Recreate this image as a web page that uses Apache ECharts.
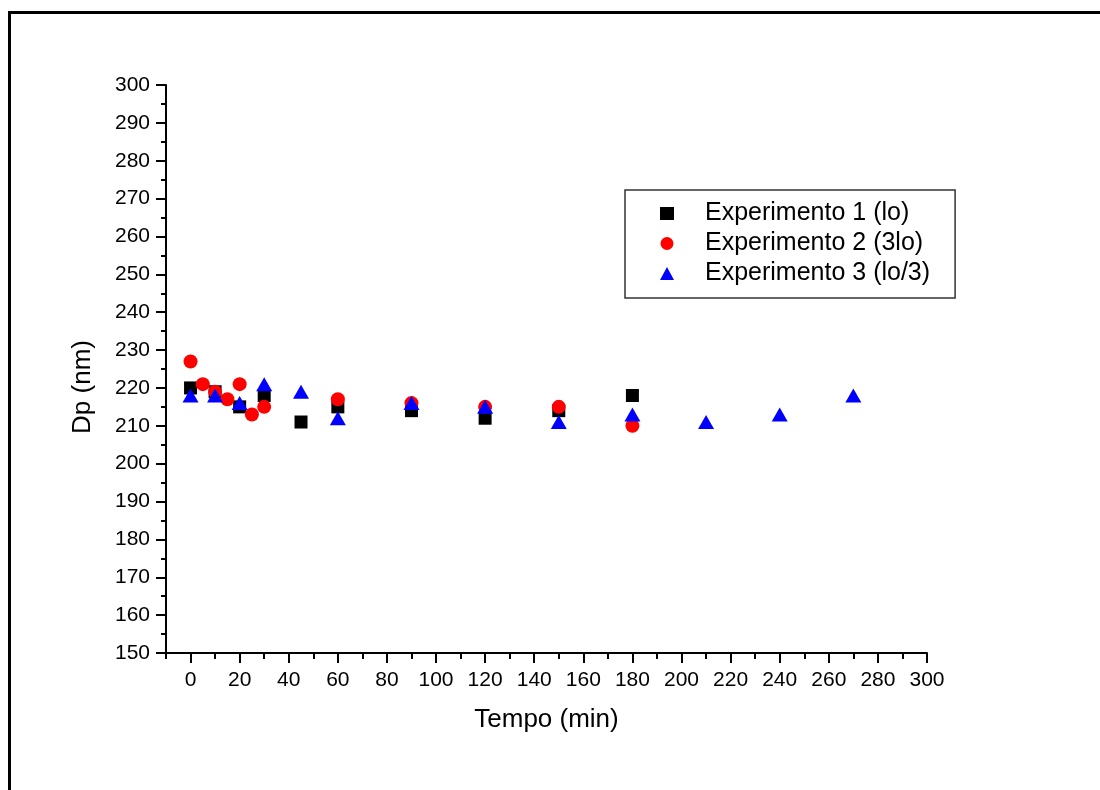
<!DOCTYPE html>
<html>
<head>
<meta charset="utf-8">
<script src="https://cdn.jsdelivr.net/npm/echarts@6/dist/echarts.min.js"></script>
<style>
html,body{margin:0;padding:0;background:#fff;}
#chart{width:1100px;height:790px;}
</style>
</head>
<body>
<div id="chart"></div>
<script>
// ---- data ----
const exp1Time = [0, 10, 20, 30, 45, 60, 90, 120, 150, 180];
const exp1Dp   = [220, 219, 215, 218, 211, 215, 214, 212, 214, 218];

const exp2Time = [0, 5, 10, 15, 20, 25, 30, 60, 90, 120, 150, 180];
const exp2Dp   = [227, 221, 219, 217, 221, 213, 215, 217, 216, 215, 215, 210];

const exp3Time = [0, 10, 20, 30, 45, 60, 90, 120, 150, 180, 210, 240, 270];
const exp3Dp   = [218, 218, 216, 221, 219, 212, 216, 215, 211, 213, 211, 213, 218];

const seriesNames = ['Experimento 1 (lo)', 'Experimento 2 (3lo)', 'Experimento 3 (lo/3)'];
const xMajorTicks = [0, 20, 40, 60, 80, 100, 120, 140, 160, 180, 200, 220, 240, 260, 280, 300];
const xMinorTicks = [-10, 10, 30, 50, 70, 90, 110, 130, 150, 170, 190, 210, 230, 250, 270, 290];
const xRange = [-10, 300];
const yRange = [150, 300];
const yInterval = 10;
const xTitle = 'Tempo (min)';
const yTitle = 'Dp (nm)';

const zip = (a, b) => a.map((v, i) => [v, b[i]]);
const FONT = '"Liberation Sans", Arial, sans-serif';

const chart = echarts.init(document.getElementById('chart'), null, {renderer: 'canvas'});
const axisLine = {show: true, onZero: false, lineStyle: {color: '#000', width: 2}};

chart.setOption({
  animation: false,
  backgroundColor: '#fff',
  graphic: [{
    type: 'rect',
    shape: {x: 9.5, y: 12.5, width: 1300, height: 1000},
    style: {fill: 'none', stroke: '#000', lineWidth: 3},
    silent: true
  }],
  grid: {left: 166, right: 173, top: 85, bottom: 137, containLabel: false},
  legend: {
    orient: 'vertical',
    left: 625, top: 190,
    padding: [11, 25, 12, 35],
    itemWidth: 14, itemHeight: 13, itemGap: 5,
    borderColor: '#333', borderWidth: 1.5,
    textStyle: {fontFamily: FONT, fontSize: 25, color: '#000', padding: [0, 0, 0, 26]},
    data: [
      {name: seriesNames[0], icon: 'rect'},
      {name: seriesNames[1], icon: 'circle'},
      {name: seriesNames[2], icon: 'triangle'}
    ]
  },
  xAxis: [{
    type: 'value', min: xRange[0], max: xRange[1],
    name: xTitle, nameLocation: 'middle', nameGap: 54,
    nameTextStyle: {fontFamily: FONT, fontSize: 26, color: '#000'},
    axisLine: axisLine,
    axisTick: {show: true, length: 10, customValues: xMajorTicks, lineStyle: {color: '#000', width: 2}},
    axisLabel: {fontFamily: FONT, fontSize: 21, color: '#000', margin: 17, customValues: xMajorTicks},
    splitLine: {show: false}
  }, {
    type: 'value', min: xRange[0], max: xRange[1], position: 'bottom',
    axisLine: {show: false, onZero: false},
    axisTick: {show: true, length: 6, customValues: xMinorTicks, lineStyle: {color: '#000', width: 2}},
    axisLabel: {show: false},
    splitLine: {show: false}
  }],
  yAxis: {
    type: 'value', min: yRange[0], max: yRange[1], interval: yInterval,
    name: yTitle, nameLocation: 'middle', nameGap: 70,
    nameTextStyle: {fontFamily: FONT, fontSize: 26, color: '#000', padding: [0, 36, 0, 0]},
    axisLine: axisLine,
    axisTick: {show: true, length: 10, lineStyle: {color: '#000', width: 2}},
    minorTick: {show: true, splitNumber: 2, length: 5, lineStyle: {color: '#000', width: 2}},
    axisLabel: {fontFamily: FONT, fontSize: 21, color: '#000', margin: 16},
    splitLine: {show: false}
  },
  series: [{
    name: seriesNames[0], type: 'scatter', xAxisIndex: 0,
    symbol: 'rect', symbolSize: 13,
    itemStyle: {color: '#000000', opacity: 1},
    data: zip(exp1Time, exp1Dp), z: 2
  }, {
    name: seriesNames[1], type: 'scatter', xAxisIndex: 0,
    symbol: 'circle', symbolSize: 14,
    itemStyle: {color: '#ff0000', opacity: 1},
    data: zip(exp2Time, exp2Dp), z: 3
  }, {
    name: seriesNames[2], type: 'scatter', xAxisIndex: 0,
    symbol: 'triangle', symbolSize: [16, 14],
    itemStyle: {color: '#0000ff', opacity: 1},
    data: zip(exp3Time, exp3Dp), z: 4
  }]
});
</script>
</body>
</html>
